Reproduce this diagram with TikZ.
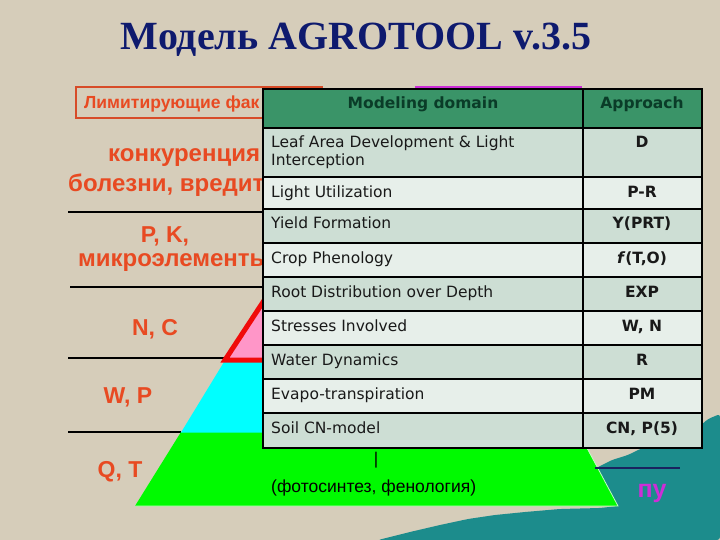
\documentclass[tikz,border=0pt]{standalone}
\usepackage{fontspec}
\setmainfont{Liberation Serif}
\newfontfamily\arialf{Liberation Sans}
\newfontfamily\verd{DejaVu Sans}
\definecolor{bg}{RGB}{214,205,186}
\definecolor{teal1}{RGB}{28,140,140}
\definecolor{navy}{RGB}{14,26,110}
\definecolor{orred}{RGB}{232,74,34}
\definecolor{boxred}{RGB}{215,75,40}
\definecolor{magen}{RGB}{205,45,215}
\definecolor{hdr}{RGB}{58,148,104}
\definecolor{hdrtxt}{RGB}{10,60,40}
\definecolor{rowd}{RGB}{205,222,212}
\definecolor{rowl}{RGB}{231,239,234}
\definecolor{pgreen}{RGB}{0,250,0}
\definecolor{pcyan}{RGB}{0,255,255}
\definecolor{ppink}{RGB}{255,150,200}
\definecolor{pred}{RGB}{240,10,10}
\definecolor{lnavy}{RGB}{25,35,95}
\tikzset{
  lbl/.style={inner sep=0pt, anchor=base west, text=orred, font=\arialf\bfseries\fontsize{24}{27}\selectfont},
  lblc/.style={inner sep=0pt, anchor=base, text=orred, font=\arialf\bfseries\fontsize{23}{26}\selectfont},
  cellD/.style={fill=rowd, draw=black, line width=1.1pt},
  cellL/.style={fill=rowl, draw=black, line width=1.1pt},
  ltxt/.style={inner sep=0pt, anchor=base west, text=black!90, font=\verd\fontsize{15.5}{18}\selectfont},
  rtxt/.style={inner sep=0pt, anchor=base, text=black!90, font=\verd\bfseries\fontsize{15.5}{18}\selectfont},
  htxt/.style={inner sep=0pt, anchor=base, text=hdrtxt, font=\verd\bfseries\fontsize{15.5}{18}\selectfont},
  sepline/.style={draw=black, line width=1.6pt}
}
\begin{document}
\begin{tikzpicture}[x=1pt,y=-1pt]
\useasboundingbox (0,0) rectangle (720,540);
\fill[bg] (0,0) rectangle (720,540);
% teal water region
\fill[teal1, rounded corners=3pt] (720,414) -- (708,419) -- (700,426) -- (690,440) -- (660,446) -- (640,449) -- (628,455) -- (612,460) -- (600,466) -- (593,470) -- (618,506) -- (600,508) -- (560,509) -- (525,512) -- (495,515) -- (468,519) -- (440,525) -- (410,532) -- (378,540) -- (720,540) -- cycle;
% title
\node[inner sep=0pt, anchor=base, text=navy, font=\bfseries\fontsize{40}{44}\selectfont] (title) at (356,50) {Модель AGROTOOL v.3.5};
% limiting factors box
\draw[boxred, line width=1.8pt] (76,87) rectangle (322,118);
\node[inner sep=0pt, anchor=base west, text=orred, font=\arialf\bfseries\fontsize{17.5}{20}\selectfont] (limf) at (84,109) {Лимитирующие фак};
\draw[magen, line width=2.5pt] (415,87) -- (582,87);
% left labels
\node[lbl] (konk) at (108,162) {конкуренция};
\node[lbl] (bolez) at (68,192) {болезни, вредит};
\node[lblc] (pk) at (165,242) {P, K,};
\node[lbl] (mikro) at (78,266) {микроэлементы};
\node[lblc] (nc) at (155,335) {N, C};
\node[lblc] (wp) at (128,403) {W, P};
\node[lblc] (qt) at (120,477) {Q, T};
% separator lines
\draw[sepline] (68,212) -- (263,212);
\draw[sepline] (70,287) -- (263,287);
\draw[sepline] (68,358) -- (224,358);
\draw[sepline] (68,432) -- (181,432);
% pyramid
\fill[pgreen] (135,506) -- (181,432) -- (578,432) -- (618,506) -- cycle;
\draw[white!75!green, line width=0.8pt] (135,506) -- (618,506) -- (587,448);
\fill[pcyan] (181,432.5) -- (224,362) -- (540,362) -- (578,432.5) -- cycle;
\draw[fill=ppink, draw=pred, line width=5pt, line join=miter] (225,360) -- (376,130) -- (527,360) -- cycle;
% table header
\fill[hdr] (263,89) rectangle (702,128);
\draw[black, line width=1.1pt] (263,89) rectangle (583,128);
\draw[black, line width=1.1pt] (583,89) rectangle (702,128);
\node[htxt] (hdom) at (423,109) {Modeling domain};
\node[htxt] (happ) at (642,109) {Approach};
% rows
\draw[cellD] (263,128) rectangle (583,177); \draw[cellD] (583,128) rectangle (702,177);
\draw[cellL] (263,177) rectangle (583,209); \draw[cellL] (583,177) rectangle (702,209);
\draw[cellD] (263,209) rectangle (583,243); \draw[cellD] (583,209) rectangle (702,243);
\draw[cellL] (263,243) rectangle (583,277); \draw[cellL] (583,243) rectangle (702,277);
\draw[cellD] (263,277) rectangle (583,311); \draw[cellD] (583,277) rectangle (702,311);
\draw[cellL] (263,311) rectangle (583,345); \draw[cellL] (583,311) rectangle (702,345);
\draw[cellD] (263,345) rectangle (583,379); \draw[cellD] (583,345) rectangle (702,379);
\draw[cellL] (263,379) rectangle (583,413); \draw[cellL] (583,379) rectangle (702,413);
\draw[cellD] (263,413) rectangle (583,448); \draw[cellD] (583,413) rectangle (702,448);
\node[ltxt] (t1a) at (271,148) {Leaf Area Development \& Light};
\node[ltxt] (t1b) at (271,166) {Interception};
\node[ltxt] (t2) at (271,197) {Light Utilization};
\node[ltxt] (t3) at (271,229) {Yield Formation};
\node[ltxt] (t4) at (271,263) {Crop Phenology};
\node[ltxt] (t5) at (271,297) {Root Distribution over Depth};
\node[ltxt] (t6) at (271,331) {Stresses Involved};
\node[ltxt] (t7) at (271,365) {Water Dynamics};
\node[ltxt] (t8) at (271,399) {Evapo-transpiration};
\node[ltxt] (t9) at (271,433) {Soil CN-model};
\node[rtxt] (a1) at (642,148) {D};
\node[rtxt] (a2) at (642,197) {P-R};
\node[rtxt] (a3) at (642,229) {Y(PRT)};
\node[rtxt] (a4) at (642,263) {\textit{f}(T,O)};
\node[rtxt] (a5) at (642,297) {EXP};
\node[rtxt] (a6) at (642,331) {W, N};
\node[rtxt] (a7) at (642,365) {R};
\node[rtxt] (a8) at (642,399) {PM};
\node[rtxt] (a9) at (642,433) {CN, P(5)};
% bottom texts
\node[inner sep=0pt, anchor=base, font=\arialf\fontsize{17}{20}\selectfont] (bar) at (376,464) {|};
\node[inner sep=0pt, anchor=base west, font=\arialf\fontsize{17.5}{20}\selectfont] (foto) at (271,492) {(фотосинтез, фенология)};
\draw[lnavy, line width=2.5pt] (595,468) -- (680,468);
\node[inner sep=0pt, anchor=base, text=magen, font=\arialf\bfseries\fontsize{25}{28}\selectfont] (pu) at (652,497) {пу};
\end{tikzpicture}
\end{document}
